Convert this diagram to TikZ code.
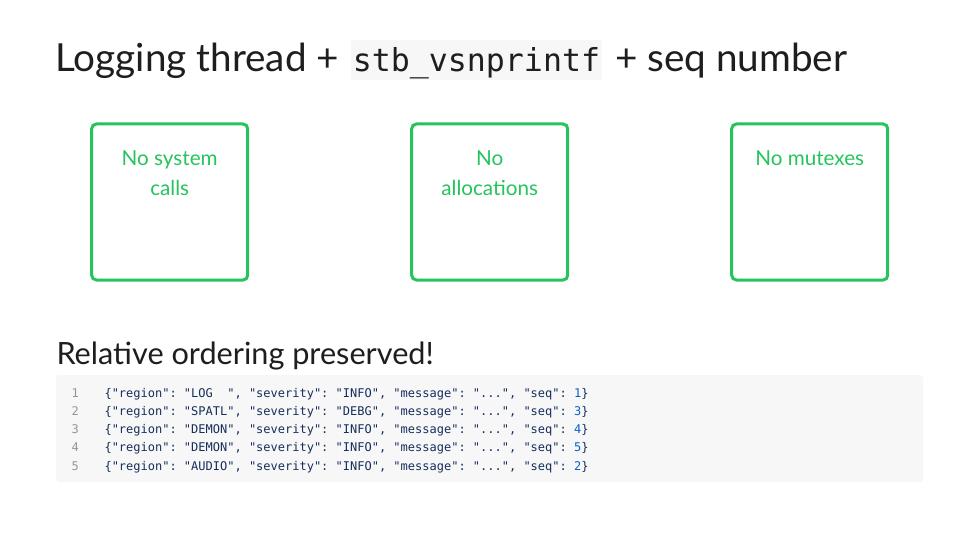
\documentclass[tikz,border=0pt]{standalone}
\usepackage{fontspec}
\setmainfont{Lato}
\setmonofont{DejaVu Sans Mono}
\usetikzlibrary{positioning}

\definecolor{inkdark}{RGB}{30,30,30}
\definecolor{rulegreen}{RGB}{38,196,93}
\definecolor{codeink}{RGB}{22,46,92}
\definecolor{seqblue}{RGB}{10,96,200}
\definecolor{linegray}{RGB}{150,150,150}
\definecolor{codebg}{RGB}{247,247,247}

\tikzset{every picture/.style={line width=0.75pt}}
\tikzset{
  heading/.style={anchor=base west, inner sep=0pt, text=inkdark, font=\fontsize{29}{34}\selectfont},
  headcode/.style={anchor=base west, inner xsep=1.5pt, inner ysep=0pt, fill=codebg, text=inkdark,
    text height=24pt, text depth=6pt, font=\ttfamily\fontsize{23.7}{28}\selectfont},
  subheading/.style={anchor=base west, inner sep=0pt, text=inkdark, font=\fontsize{23}{27}\selectfont},
  rulebox/.style={draw=rulegreen, line width=2.25pt, rounded corners=3.5pt, outer sep=0pt,
    minimum width=117pt, minimum height=117pt},
  boxlabel/.style={inner sep=0pt, align=center, text=rulegreen, font=\fontsize{15.5}{22.5}\selectfont},
  lineno/.style={anchor=base west, inner sep=0pt, text=linegray, font=\ttfamily\fontsize{9}{11}\selectfont},
  codeline/.style={anchor=base west, inner sep=0pt, text=codeink, font=\ttfamily\fontsize{9}{11}\selectfont},
}

\begin{document}
\begin{tikzpicture}[x=0.75pt,y=0.75pt,yscale=-1,xscale=1]
\path[use as bounding box, fill=white] (0,0) rectangle (980,552);

% Text Node
\node[heading] (titlea) at (55,72) {Logging thread +};
% Text Node
\node[headcode, right=8pt of titlea.base east, anchor=base west] (titlecode) {stb\_vsnprintf};
% Text Node
\node[heading, right=9pt of titlecode.base east, anchor=base west] (titleb) {+ seq number};

%Shape: Rectangle
\node[rulebox] (syscalls) at (169.7,202) {};
\node[rulebox, right=123pt of syscalls] (allocs) {};
\node[rulebox, right=123pt of allocs] (mutexes) {};

% Text Node
\node[boxlabel, below=19.5pt of syscalls.north] (syscallstext) {No system\\calls};
% Text Node
\node[boxlabel, below=19.5pt of allocs.north] (allocstext) {No\\allocations};
% Text Node
\node[boxlabel, below=19.5pt of mutexes.north] (mutexestext) {No mutexes};

% Text Node
\node[subheading] (ordering) at (56,364) {Relative ordering preserved!};

%Shape: Rectangle
\fill[codebg, rounded corners=2.25pt] (56,375) rectangle (923,482);

\foreach \n/\reg/\sev/\sq in {1/{LOG\ \ }/INFO/1, 2/SPATL/DEBG/3, 3/DEMON/INFO/4, 4/DEMON/INFO/5, 5/AUDIO/INFO/2}{
  \node[lineno] (num\n) at (71,{397+18.25*(\n-1)}) {\n};
  \node[codeline, right=18.6pt of num\n.base east, anchor=base west] (code\n)
    {\{"region": "\reg", "severity": "\sev", "message": "...", "seq": \textcolor{seqblue}{\sq}\}};
}

\end{tikzpicture}
\end{document}
